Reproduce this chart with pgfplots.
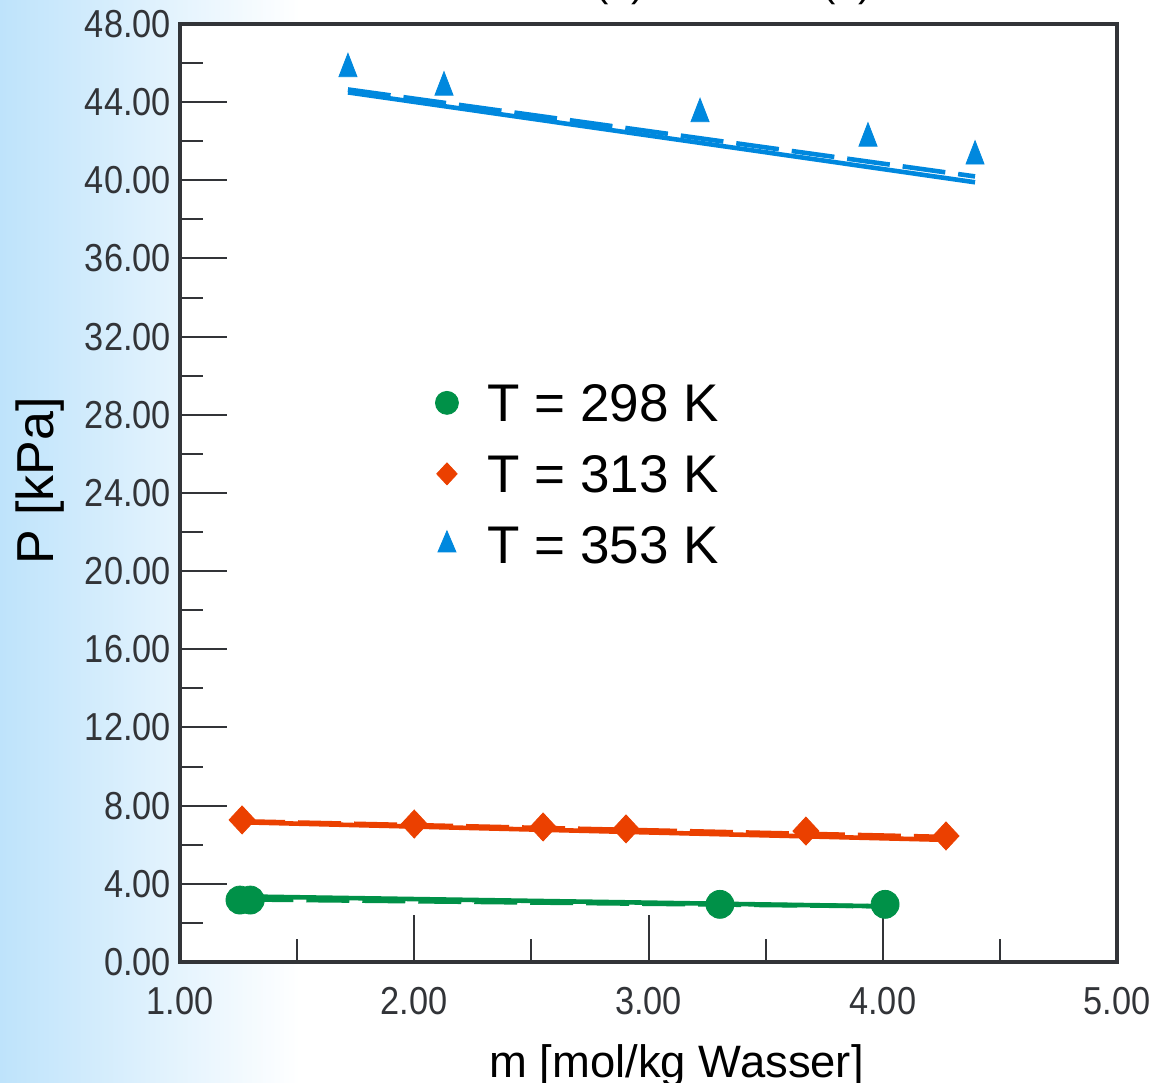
\documentclass[border=0pt]{standalone}
\usepackage{fontspec}
\setmainfont{Liberation Sans}
\usepackage{pgfplots}
\pgfplotsset{compat=1.18}
\definecolor{cgreen}{RGB}{0,145,72}
\definecolor{corange}{RGB}{235,64,0}
\definecolor{cblue}{RGB}{0,136,222}
\definecolor{bgblue}{RGB}{190,227,251}
\definecolor{framec}{RGB}{50,52,56}
\begin{document}
\begin{tikzpicture}
\path[use as bounding box] (0,0) rectangle (576.5pt,541.5pt);
\shade[left color=bgblue, right color=white] (0,0) rectangle (150pt,541.5pt);
\node[font=\fontsize{20}{24}\selectfont, anchor=base] at (310pt,543pt) {(a)};
\node[font=\fontsize{20}{24}\selectfont, anchor=base] at (423.5pt,543pt) {(b)};
\begin{axis}[
  at={(90pt,60.5pt)}, anchor=south west,
  scale only axis, width=468.5pt, height=469pt,
  xmin=1, xmax=5, ymin=0, ymax=48,
  xtick={1,2,3,4,5}, minor xtick={1.5,2.5,3.5,4.5},
  ytick={0,4,...,48}, minor ytick={2,6,...,46},
  tick align=inside, xtick pos=bottom, ytick pos=left,
  major tick length=23.5pt, minor tick length=11.5pt,
  tick style={framec, line width=1pt},
  axis line style={framec, line width=2pt},
  axis background/.style={fill=white},
  /pgf/number format/.cd, fixed, fixed zerofill, precision=2, assume math mode=true, /pgfplots/.cd,
  ticklabel style={font=\fontsize{19.5}{22}\selectfont, text=framec, xscale=0.88},
  yticklabel style={anchor=east, inner sep=0pt, xshift=-5pt},
  xticklabel style={anchor=base, inner sep=0pt, yshift=-26.5pt},
  xlabel={m [mol/kg Wasser]},
  xlabel style={at={(axis description cs:0.53,-0.1226)}, anchor=base, inner sep=0pt, font=\fontsize{22.7}{27}\selectfont},
  ylabel={P [kPa]},
  ylabel style={at={(axis description cs:-0.1355,0.513)}, anchor=base, inner sep=0pt, font=\fontsize{26}{30}\selectfont},
  legend style={draw=none, fill=none, inner sep=0pt,
    at={(axis description cs:0.2722,0.6269)}, anchor=north west,
    font=\fontsize{26.5}{30}\selectfont, row sep=7pt,
    nodes={inner sep=0pt, text height=23.5pt, text depth=5pt},
    /tikz/every odd column/.append style={column sep=14.5pt}},
  legend cell align=left,
]
% T = 298 K
\addplot[cgreen, line width=2.3pt, forget plot] coordinates {(1.30,3.35) (4.01,2.85)};
\addplot[cgreen, line width=2.3pt, dash pattern=on 21.5pt off 6.5pt, forget plot] coordinates {(1.30,3.20) (4.01,2.85)};
\addplot[only marks, mark=*, mark size=7pt, cgreen, forget plot] coordinates {(1.256,3.17) (1.30,3.17) (3.305,2.95) (4.01,2.95)};
% T = 313 K
\addplot[corange, line width=2.3pt, forget plot] coordinates {(1.265,7.15) (4.27,6.25)};
\addplot[corange, line width=2.3pt, dash pattern=on 21.5pt off 6.5pt, forget plot] coordinates {(1.265,7.20) (4.27,6.40)};
\addplot[only marks, mark=diamond*, mark size=7pt, mark options={xscale=1.24}, corange, forget plot] coordinates {(1.265,7.27) (2.0,7.06) (2.55,6.91) (2.904,6.81) (3.672,6.70) (4.27,6.45)};
% T = 353 K
\addplot[cblue, line width=2.3pt, forget plot] coordinates {(1.717,44.5) (4.394,39.9)};
\addplot[cblue, line width=2.3pt, dash pattern=on 21.5pt off 6.5pt, forget plot] coordinates {(1.717,44.65) (4.394,40.2)};
\addplot[only marks, mark=triangle*, mark size=7.8pt, mark options={xscale=0.67}, cblue, forget plot] coordinates {(1.717,45.70) (2.127,44.76) (3.22,43.40) (3.937,42.15) (4.394,41.23)};
% legend
\addlegendimage{only marks, mark=*, mark size=5.75pt, cgreen}
\addlegendentry{T = 298 K}
\addlegendimage{only marks, mark=diamond*, mark size=5.5pt, mark options={xscale=1.24}, corange}
\addlegendentry{T = 313 K}
\addlegendimage{only marks, mark=triangle*, mark size=7pt, mark options={xscale=0.74}, cblue}
\addlegendentry{T = 353 K}
\end{axis}
\end{tikzpicture}
\end{document}
